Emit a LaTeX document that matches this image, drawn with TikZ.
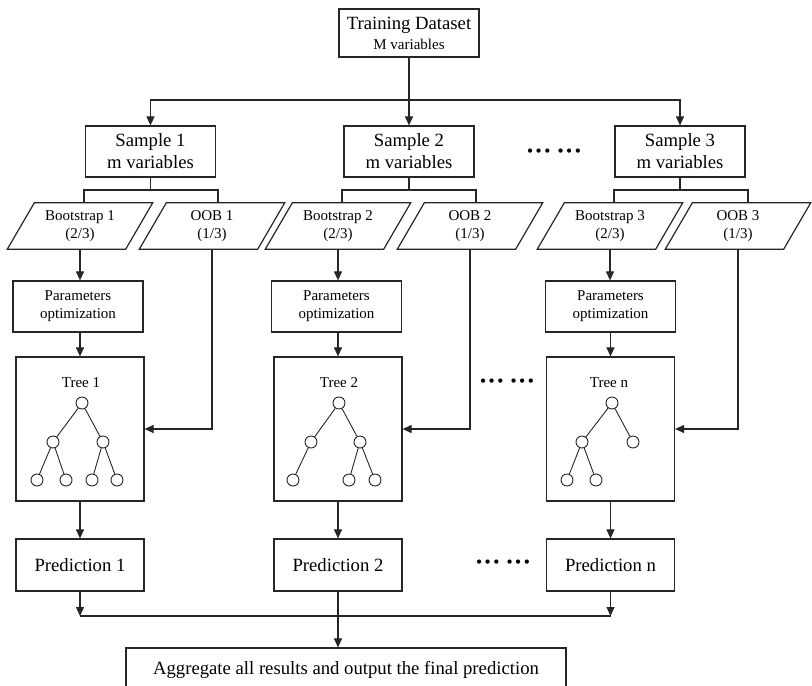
\documentclass[tikz,border=0pt]{standalone}
\usepackage{fontspec}
\setmainfont{Liberation Serif}
\newfontfamily\dotfont{DejaVu Sans}
\usetikzlibrary{arrows.meta,calc}
\begin{document}
\begin{tikzpicture}[x=1pt,y=-1pt,
  ln/.style={draw=black!85, line width=1.1pt},
  arr/.style={ln, -{Triangle[length=9pt,width=8pt]}},
  box/.style={draw=black!85, line width=1.2pt, inner sep=0pt, align=center},
  bigtxt/.style={font=\fontsize{18.7}{22}\selectfont},
  smalltxt/.style={font=\fontsize{15}{18}\selectfont},
  samplebox/.style={box, bigtxt, minimum width=130pt, minimum height=51pt},
  parabox/.style={inner sep=0pt, align=center, smalltxt, minimum width=118pt, minimum height=46pt},
  optbox/.style={box, smalltxt, minimum width=130pt, minimum height=51pt},
  treebox/.style={box, minimum width=128pt, minimum height=144pt},
  predbox/.style={box, bigtxt, minimum width=128pt, minimum height=52pt},
  tn/.style={circle, draw=black!85, line width=0.9pt, minimum size=12pt, inner sep=0pt},
  tl/.style={draw=black!85, line width=0.9pt},
  dots/.style={font=\dotfont\fontsize{14.6}{16}\selectfont, inner sep=0pt},
  treetitle/.style={smalltxt, inner sep=0pt}
]
\useasboundingbox (0,0) rectangle (812,686);
\clip (0,0) rectangle (812,686);

% top
\node[box, minimum width=140pt, minimum height=48pt, font=\fontsize{18.7}{20}\selectfont] (td) at (409,33)
  {Training Dataset\\{\fontsize{15}{20}\selectfont M variables}};

% samples
\node[samplebox] (s1) at (150.5,151.5) {Sample 1\\m variables};
\node[samplebox] (s2) at (409,151.5) {Sample 2\\m variables};
\node[samplebox] (s3) at (680,151.5) {Sample 3\\m variables};
\node[dots] (d1) at (554,153) {••• •••};

\coordinate (tj) at (409,100);
\draw[arr] (td.south) -- (s2.north);
\draw[arr] (tj) -| (s1.north);
\draw[arr] (tj) -| (s3.north);

% bootstrap / oob
\node[parabox] (b1) at (80,226) {Bootstrap 1\\(2/3)};
\node[parabox] (o1) at (212,226) {OOB 1\\(1/3)};
\node[parabox] (b2) at (338,226) {Bootstrap 2\\(2/3)};
\node[parabox] (o2) at (470,226) {OOB 2\\(1/3)};
\node[parabox] (b3) at (610,226) {Bootstrap 3\\(2/3)};
\node[parabox] (o3) at (738,226) {OOB 3\\(1/3)};
\foreach \n in {b1,o1,b2,o2,b3,o3}
  \draw[box] ([xshift=-13.5pt]\n.south west) -- ([xshift=-13.5pt]\n.south east)
    -- ([xshift=13.5pt]\n.north east) -- ([xshift=13.5pt]\n.north west) -- cycle;

% branches from samples
\foreach \s/\b/\o/\bx/\ox in {s1/b1/o1/84/218, s2/b2/o2/342/476, s3/b3/o3/614/748} {
  \coordinate (jb) at (\bx,190);
  \coordinate (jo) at (\ox,190);
  \draw[ln] (\s.south) -- (\s.south |- jb);
  \draw[ln] (jb |- \b.north) -- (jb) -- (jo) -- (jo |- \o.north);
}

% parameter optimization
\node[optbox] (p1) at (78,306.5) {Parameters\\optimization};
\node[optbox] (p2) at (336.5,306.5) {Parameters\\optimization};
\node[optbox] (p3) at (610.5,306.5) {Parameters\\optimization};

% trees
\node[treebox] (t1) at (80,429) {};
\node[treebox] (t2) at (338,429) {};
\node[treebox] (t3) at (610.5,429) {};
\node[treetitle] (tt1) at (81,383) {Tree 1};
\node[treetitle] (tt2) at (339,383) {Tree 2};
\node[treetitle] (tt3) at (609,383) {Tree n};
\node[dots] (d2) at (507,383) {••• •••};

% tree 1 glyph
\node[tn] (t1r) at (82,403) {};
\node[tn] (t1a) at (53,442) {};
\node[tn] (t1b) at (103,442) {};
\node[tn] (t1c) at (37,480) {};
\node[tn] (t1d) at (66,480) {};
\node[tn] (t1e) at (92,480) {};
\node[tn] (t1f) at (117,480) {};
\draw[tl] (t1r) -- (t1a); \draw[tl] (t1r) -- (t1b);
\draw[tl] (t1a) -- (t1c); \draw[tl] (t1a) -- (t1d);
\draw[tl] (t1b) -- (t1e); \draw[tl] (t1b) -- (t1f);

% tree 2 glyph
\node[tn] (t2r) at (339,403) {};
\node[tn] (t2a) at (311,442) {};
\node[tn] (t2b) at (360,442) {};
\node[tn] (t2c) at (293,480) {};
\node[tn] (t2e) at (349,480) {};
\node[tn] (t2f) at (375,480) {};
\draw[tl] (t2r) -- (t2a); \draw[tl] (t2r) -- (t2b);
\draw[tl] (t2a) -- (t2c);
\draw[tl] (t2b) -- (t2e); \draw[tl] (t2b) -- (t2f);

% tree n glyph
\node[tn] (t3r) at (612,403) {};
\node[tn] (t3a) at (582,442) {};
\node[tn] (t3b) at (633,442) {};
\node[tn] (t3c) at (567,480) {};
\node[tn] (t3d) at (596,480) {};
\draw[tl] (t3r) -- (t3a); \draw[tl] (t3r) -- (t3b);
\draw[tl] (t3a) -- (t3c); \draw[tl] (t3a) -- (t3d);

% predictions
\node[predbox] (pr1) at (80,565) {Prediction 1};
\node[predbox] (pr2) at (338,565) {Prediction 2};
\node[predbox] (pr3) at (610.5,565) {Prediction n};
\node[dots] (d3) at (503,564) {••• •••};

% aggregate
\node[box, bigtxt, minimum width=440pt, minimum height=44pt] (agg) at (346,670)
  {Aggregate all results and output the final prediction};

% vertical flow
\foreach \b/\p/\t/\o/\r in {b1/p1/t1/o1/pr1, b2/p2/t2/o2/pr2, b3/p3/t3/o3/pr3} {
  \draw[arr] (\b.south) -- (\b.south |- \p.north);
  \draw[arr] (\t.north |- \p.south) -- (\t.north);
  \draw[arr] (\o.south) |- (\t.east);
  \draw[arr] (\t.south) -- (\r.north);
}

% collect predictions
\coordinate (hl) at (0,616);
\draw[arr] (pr1.south) -- (pr1.south |- hl);
\draw[arr] (pr3.south) -- (pr3.south |- hl);
\draw[ln] (pr1.south |- hl) -- (pr3.south |- hl);
\draw[arr] (pr2.south) -- (pr2.south |- agg.north);
\end{tikzpicture}
\end{document}
